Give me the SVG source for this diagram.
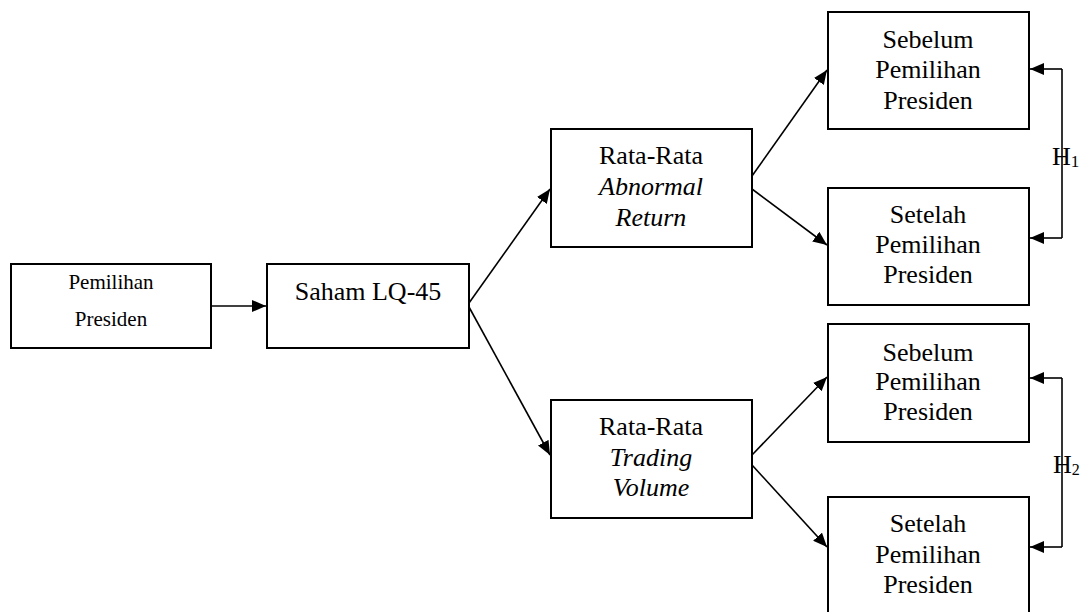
<svg xmlns="http://www.w3.org/2000/svg" width="1080" height="612" viewBox="0 0 1080 612">
<defs>
<marker id="ah" markerWidth="14" markerHeight="12" refX="14" refY="6" orient="auto" markerUnits="userSpaceOnUse">
<path d="M0,0 L14,6 L0,12 Z" fill="#000"/>
</marker>
<style>
.box{fill:#fff;stroke:#000;stroke-width:2}
text{font-family:'Liberation Serif',serif;font-size:26px;fill:#000;text-anchor:middle}
.s{font-size:21px}
.i{font-style:italic}
.h{text-anchor:start}
.c{fill:none;stroke:#000;stroke-width:1.6}
</style>
</defs>
<rect width="1080" height="612" fill="#fff"/>
<g id="n1"><rect class="box" x="11" y="264" width="200" height="84"/>
<text class="s" x="111" y="289">Pemilihan</text><text class="s" x="111" y="326">Presiden</text></g>
<g id="n2"><rect class="box" x="267" y="264" width="202" height="84"/>
<text x="368" y="300">Saham LQ-45</text></g>
<g id="n3"><rect class="box" x="551" y="129" width="201" height="118"/>
<text x="651" y="164">Rata-Rata</text><text class="i" x="651" y="195">Abnormal</text><text class="i" x="651" y="226">Return</text></g>
<g id="n4"><rect class="box" x="551" y="400" width="201" height="118"/>
<text x="651" y="435">Rata-Rata</text><text class="i" x="651" y="466">Trading</text><text class="i" x="651" y="496">Volume</text></g>
<g id="n5"><rect class="box" x="828" y="12" width="201" height="117"/>
<text x="928" y="48">Sebelum</text><text x="928" y="78">Pemilihan</text><text x="928" y="109">Presiden</text></g>
<g id="n6"><rect class="box" x="828" y="188" width="201" height="117"/>
<text x="928" y="223">Setelah</text><text x="928" y="253">Pemilihan</text><text x="928" y="283">Presiden</text></g>
<g id="n7"><rect class="box" x="828" y="324" width="201" height="118"/>
<text x="928" y="361">Sebelum</text><text x="928" y="390">Pemilihan</text><text x="928" y="420">Presiden</text></g>
<g id="n8"><rect class="box" x="828" y="497" width="201" height="118"/>
<text x="928" y="532">Setelah</text><text x="928" y="563">Pemilihan</text><text x="928" y="593">Presiden</text></g>
<g id="connectors">
<line class="c" x1="212" y1="306" x2="266" y2="306" marker-end="url(#ah)"/>
<line class="c" x1="469" y1="303" x2="550" y2="189" marker-end="url(#ah)"/>
<line class="c" x1="469" y1="307" x2="550" y2="455" marker-end="url(#ah)"/>
<line class="c" x1="752" y1="176" x2="827" y2="70" marker-end="url(#ah)"/>
<line class="c" x1="752" y1="189" x2="827" y2="245" marker-end="url(#ah)"/>
<line class="c" x1="752" y1="455" x2="827" y2="377" marker-end="url(#ah)"/>
<line class="c" x1="752" y1="465" x2="827" y2="547" marker-end="url(#ah)"/>
<polyline class="c" points="1062,69 1062,238"/>
<line class="c" x1="1062" y1="69" x2="1030" y2="69" marker-end="url(#ah)"/>
<line class="c" x1="1062" y1="238" x2="1030" y2="238" marker-end="url(#ah)"/>
<polyline class="c" points="1062,378 1062,547"/>
<line class="c" x1="1062" y1="378" x2="1030" y2="378" marker-end="url(#ah)"/>
<line class="c" x1="1062" y1="547" x2="1030" y2="547" marker-end="url(#ah)"/>
</g>
<text class="h" x="1052" y="165">H<tspan font-size="17" dy="2">1</tspan></text>
<text class="h" x="1053" y="473">H<tspan font-size="16" dy="2">2</tspan></text>
</svg>
